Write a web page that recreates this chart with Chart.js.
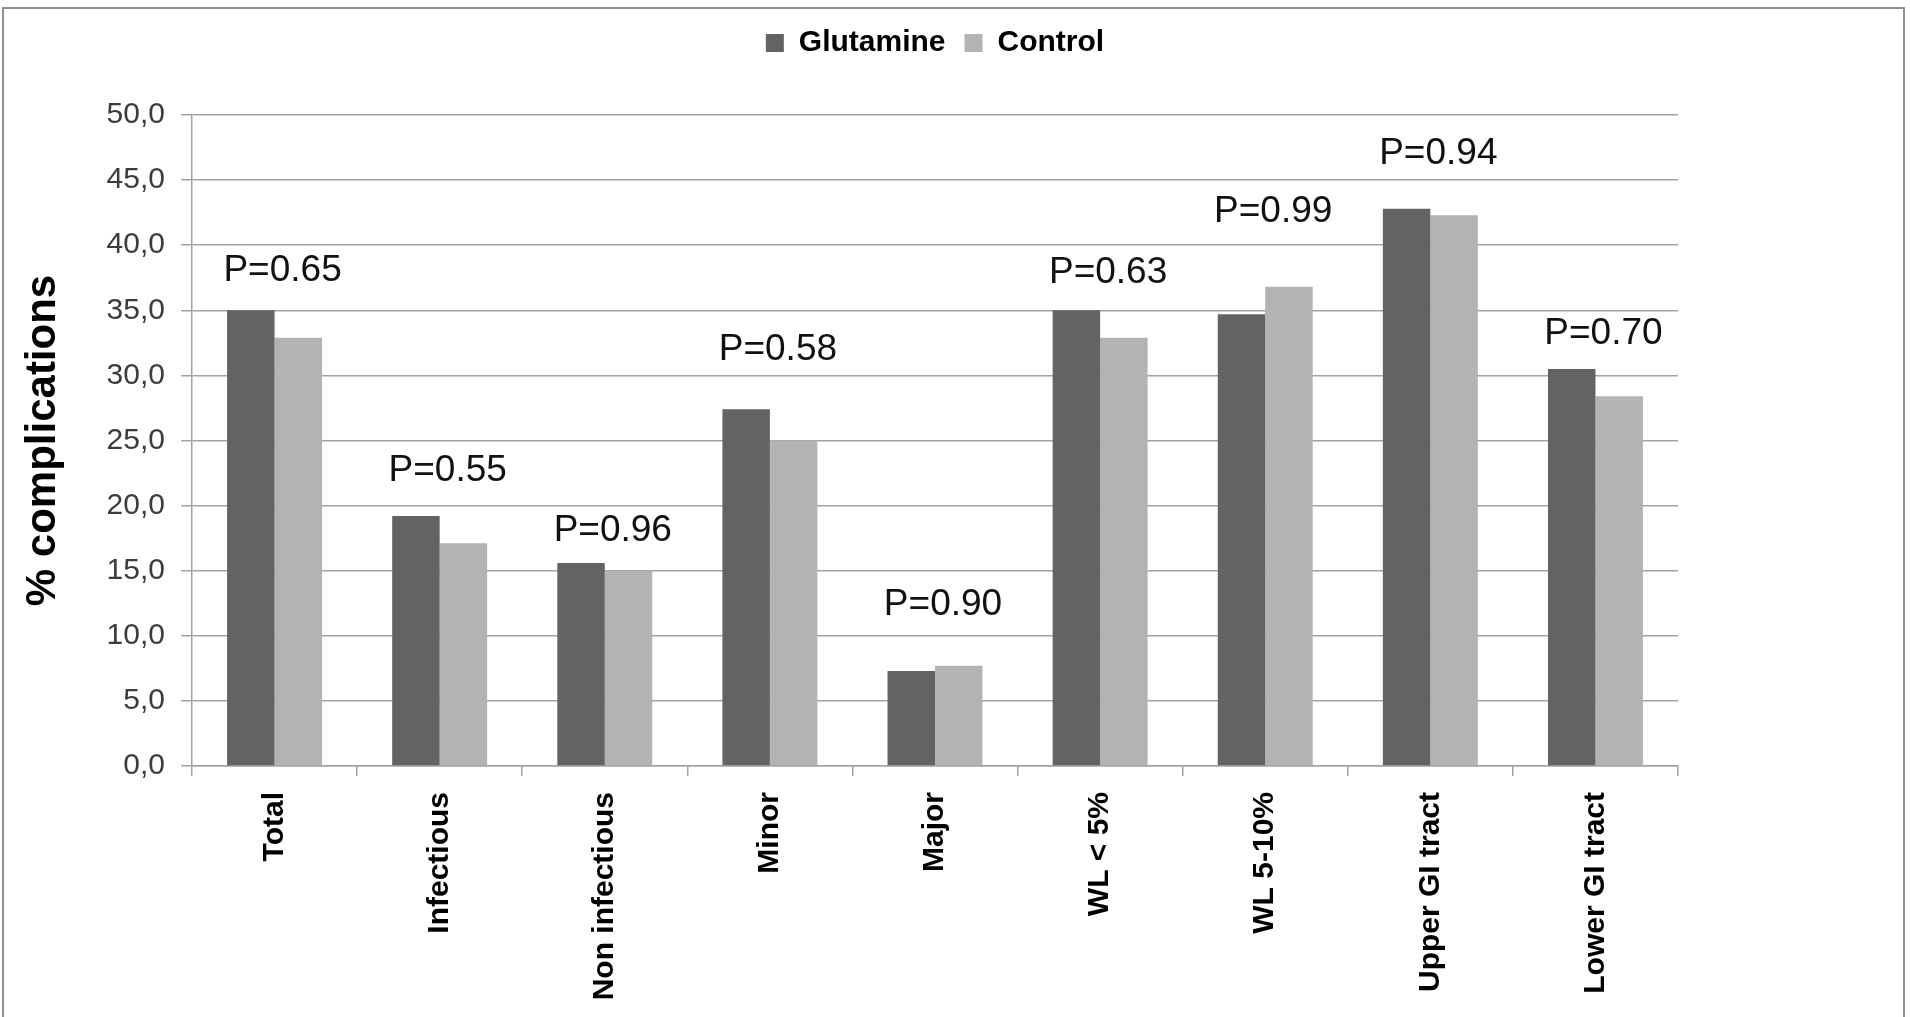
<!DOCTYPE html>
<html>
<head>
<meta charset="utf-8">
<title>% complications — Glutamine vs Control</title>
<script src="https://cdn.jsdelivr.net/npm/chart.js@4/dist/chart.umd.min.js"></script>
<style>
  html, body { margin: 0; padding: 0; background: #fff; overflow: hidden; }
  #frame { position: absolute; left: 2px; top: 7px; width: 1903px; height: 1040px;
           border: 2px solid #8f8f8f; box-sizing: border-box; }
  #wrap { position: absolute; left: 0; top: 0; width: 1910px; height: 1017px; }
</style>
</head>
<body>
<div id="frame"></div>
<div id="wrap"><canvas id="chart"></canvas></div>
<script>
// Complication rates (%) per category
const categories = ['Total', 'Infectious', 'Non infectious', 'Minor', 'Major',
                    'WL < 5%', 'WL 5-10%', 'Upper GI tract', 'Lower GI tract'];
const glutamine = [35.0, 19.2, 15.6, 27.4, 7.3, 35.0, 34.7, 42.8, 30.5];
const control   = [32.9, 17.1, 15.0, 25.0, 7.7, 32.9, 36.8, 42.3, 28.4];

// P-value annotations and the axis level each one sits at
const pValues     = ['P=0.65', 'P=0.55', 'P=0.96', 'P=0.58', 'P=0.90',
                     'P=0.63', 'P=0.99', 'P=0.94', 'P=0.70'];
const pLabelLevel = [38.0, 22.7, 18.1, 32.0, 12.4, 37.9, 42.6, 47.0, 33.2];

// Y-axis tick labels (decimal comma)
const yTickLabels = ['0,0', '5,0', '10,0', '15,0', '20,0', '25,0',
                     '30,0', '35,0', '40,0', '45,0', '50,0'];

const FONT = '"Liberation Sans", Arial, Helvetica, sans-serif';
const GRID = '#a3a3a3';

Chart.defaults.font.family = FONT;

// Extra room between the legend row and the plot area
const legendSpacer = {
  id: 'legendSpacer',
  beforeInit(chart) {
    const legend = chart.legend;
    if (!legend) return;
    const fit = legend.fit;
    legend.fit = function () { fit.call(this); this.height += 47; };
  }
};

// P-value text above each category group
const pLabels = {
  id: 'pLabels',
  afterDatasetsDraw(chart) {
    const { ctx, scales: { x, y } } = chart;
    ctx.save();
    ctx.font = '37px ' + FONT;
    ctx.fillStyle = '#111';
    ctx.textAlign = 'center';
    ctx.textBaseline = 'middle';
    pValues.forEach((txt, i) => {
      ctx.fillText(txt, x.getPixelForValue(i) + 8, y.getPixelForValue(pLabelLevel[i]));
    });
    ctx.restore();
  }
};

new Chart(document.getElementById('chart'), {
  type: 'bar',
  data: {
    labels: categories,
    datasets: [
      { label: 'Glutamine', data: glutamine, backgroundColor: '#636363', borderWidth: 0,
        categoryPercentage: 0.575, barPercentage: 1.0 },
      { label: 'Control', data: control, backgroundColor: '#b3b3b3', borderWidth: 0,
        categoryPercentage: 0.575, barPercentage: 1.0 }
    ]
  },
  options: {
    responsive: true,
    maintainAspectRatio: false,
    animation: false,
    layout: { padding: { top: 9, left: 0, right: 232, bottom: 0 } },
    plugins: {
      legend: {
        position: 'top',
        fullSize: false,
        labels: {
          boxWidth: 18, boxHeight: 18, padding: 19, color: '#000',
          font: { family: FONT, size: 30, weight: 'bold' }
        }
      },
      tooltip: { enabled: false }
    },
    scales: {
      x: {
        grid: { display: true, drawOnChartArea: false, drawTicks: true, tickLength: 10,
                color: GRID, lineWidth: 1.5, offset: true },
        border: { color: GRID, width: 1.5 },
        ticks: { font: { family: FONT, size: 30, weight: 'bold' }, color: '#000',
                 minRotation: 90, maxRotation: 90, autoSkip: false, padding: 16 },
        afterFit(scale) { scale.height = 251; }
      },
      y: {
        min: 0, max: 50,
        grid: { color: GRID, lineWidth: 1.5, tickLength: 11 },
        border: { color: GRID, width: 1.5 },
        ticks: { stepSize: 5, font: { family: FONT, size: 30 }, color: '#3c3c3c', padding: 16,
                 callback: (v, i) => yTickLabels[i] },
        title: { display: true, text: '% complications', color: '#000',
                 font: { family: FONT, size: 42, weight: 'bold' },
                 padding: { top: 18, bottom: 0 } },
        afterFit(scale) { scale.width = 192; }
      }
    }
  },
  plugins: [legendSpacer, pLabels]
});
</script>
</body>
</html>
